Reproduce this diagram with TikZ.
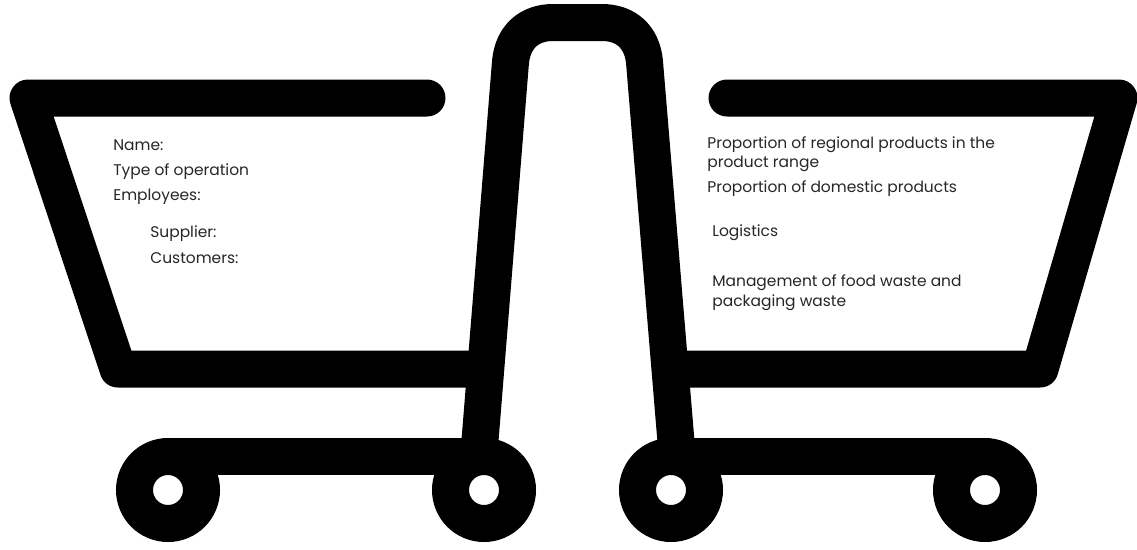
\documentclass[tikz,border=0pt]{standalone}
\usepackage{fontspec}
\setmainfont{Poppins}
\begin{document}
\begin{tikzpicture}[x=0.02cm,y=-0.02cm]
    % Styles
    \tikzset{cart line/.style={line width=0.74cm,line join=round,line cap=round}}
    \tikzset{wheel/.style={circle,draw=black,line width=0.74cm,fill=white,minimum size=1.34cm,inner sep=0pt}}
    \tikzset{info/.style={anchor=base west,inner sep=0pt,align=left,font=\fontsize{8.8}{11}\selectfont,text=black!85}}
    \useasboundingbox (0,0) rectangle (1137,549);

    % --- Left basket ---
    \draw[cart line] (427,98) -- (28,98) -- (118,369) -- (480,369);
    % --- Right basket ---
    \draw[cart line] (727,98) -- (1119,98) -- (1040,369) -- (675,369);

    % --- Handle ---
    \draw[cart line] (476,490) -- (510.5,62) .. controls (513,36) and (530,22.5) .. (553,22.5)
        -- (602,22.5) .. controls (625,22.5) and (642,36) .. (644.5,62) -- (680,490);

    % --- Wheel bars ---
    \draw[cart line] (168,456) -- (484,456);
    \draw[cart line] (671,456) -- (985,456);

    % --- Wheels ---
    \node[wheel] (wheel1) at (168,490) {};
    \node[wheel] (wheel2) at (484,490) {};
    \node[wheel] (wheel3) at (671,490) {};
    \node[wheel] (wheel4) at (985,490) {};

    % --- Labels, left ---
    \node[info] (name) at (113,150) {Name:};
    \node[info] (type) at (113,175) {Type of operation};
    \node[info] (staff) at (113,200) {Employees:};
    \node[info] (supplier) at (150,237) {Supplier:};
    \node[info] (customers) at (150,263) {Customers:};

    % --- Labels, right ---
    \node[info] (regional) at (707,148) {Proportion of regional products in the};
    \node[info] (range) at (707,167) {product range};
    \node[info] (domestic) at (707,192) {Proportion of domestic products};
    \node[info] (logistics) at (712,236) {Logistics};
    \node[info] (food) at (712,286) {Management of food waste and};
    \node[info] (packaging) at (712,306) {packaging waste};
\end{tikzpicture}
\end{document}
